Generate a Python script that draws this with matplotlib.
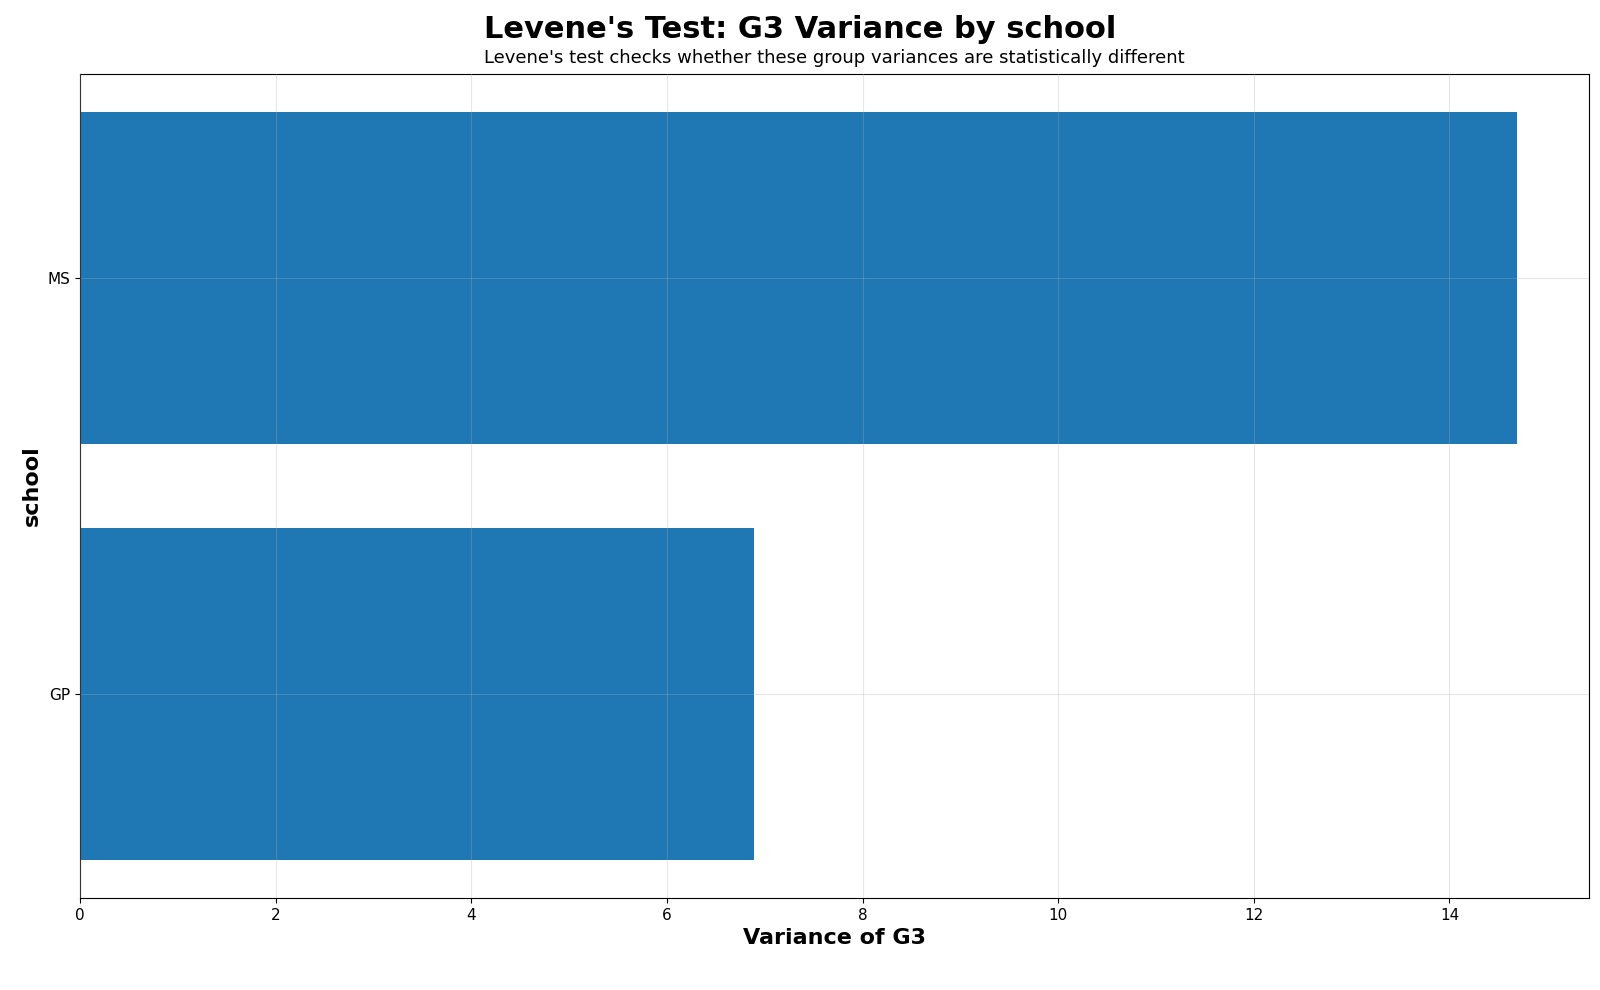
import matplotlib
matplotlib.use('Agg')
import matplotlib.pyplot as plt

schools = ['GP', 'MS']
variances = [6.89, 14.69]

fig, ax = plt.subplots(figsize=(16, 9.9), dpi=100)
ax.barh(schools, variances, color='#1f77b4', height=0.8)
ax.set_axisbelow(False)
ax.grid(True, alpha=0.3)
ax.set_xlabel('Variance of G3', fontsize=16, fontweight='bold')
ax.set_ylabel('school', fontsize=16, fontweight='bold')
ax.tick_params(labelsize=11)
fig.suptitle("Levene's Test: G3 Variance by school", fontsize=22, fontweight='bold', y=0.985)
ax.set_title("Levene's test checks whether these group variances are statistically different",
             fontsize=13, pad=8)
plt.subplots_adjust(left=0.05, right=0.993, top=0.925, bottom=0.093)
plt.savefig('out.png', dpi=100)
